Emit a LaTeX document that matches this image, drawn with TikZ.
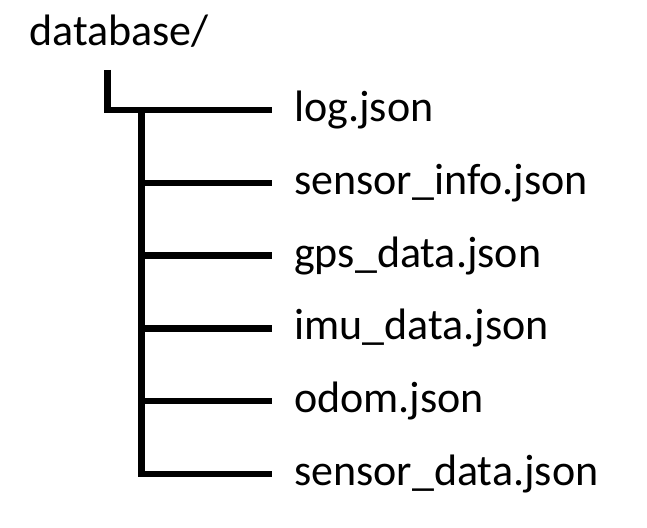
\documentclass[tikz,border=0pt]{standalone}
\usepackage{fontspec}
\setmainfont{Carlito}
\begin{document}
\begin{tikzpicture}[x=0.75pt, y=-0.75pt, line width=4.9pt,
  every node/.style={inner sep=0pt, anchor=base west, font=\fontsize{33}{40}\selectfont}]
  \useasboundingbox (0,0) rectangle (647,528);
  % folder
  \node (db) at (26,46) {database/};
  \coordinate (top) at (107.5,70);
  \coordinate (spine) at (141.5,110);
  % files
  \foreach \name/\txt [count=\i from 0] in {log/log.json, info/sensor\_info.json,
      gps/gps\_data.json, imu/imu\_data.json, odom/odom.json, data/sensor\_data.json} {
    \node (\name) at (291,110+72.8*\i+11.5) {\txt};
    \coordinate (\name-end) at (272,110+72.8*\i);
  }
  % branches
  \draw (top) |- (log-end);
  \draw (spine) |- (data-end);
  \foreach \name in {info, gps, imu, odom} {
    \draw (spine |- \name-end) -- (\name-end);
  }
\end{tikzpicture}
\end{document}
